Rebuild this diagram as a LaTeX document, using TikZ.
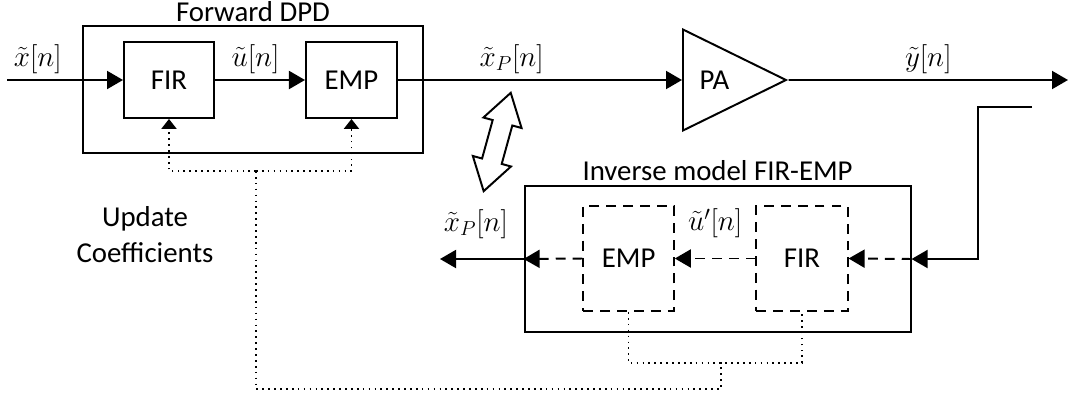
\documentclass[tikz,border=0pt]{standalone}
\usepackage{fontspec}
\setmainfont{Carlito}
\usepackage{amsmath}
\usetikzlibrary{arrows.meta,positioning,shapes.geometric,shapes.arrows}

\begin{document}
\begin{tikzpicture}[
    font=\fontsize{20.5}{25.6}\selectfont,
    blk/.style={
        draw,
        line width=1.4pt,
        minimum width=2.25cm,
        minimum height=1.9cm
    },
    outer/.style={
        draw,
        line width=1.4pt
    },
    dblk/.style={
        draw,
        line width=1.4pt,
        dash pattern=on 7pt off 5pt,
        minimum width=2.28cm,
        minimum height=2.625cm
    },
    sig/.style={
        line width=1.4pt,
        -{Triangle[length=0.4cm,width=0.45cm]}
    },
    dsig/.style={
        sig,
        dash pattern=on 7pt off 5pt
    },
    ctrl/.style={
        line width=1.2pt,
        dash pattern=on 1.2pt off 3pt
    },
    ctrltip/.style={
        ctrl,
        -{Triangle[length=0.25cm,width=0.38cm]}
    },
    lbl/.style={
        inner sep=2pt
    }
]

\useasboundingbox (0,0) rectangle (26.75,-9.925);

% forward DPD
\node[blk] (fir) at (4.225,-2.0) {FIR};
\node[blk, minimum width=2.275cm, right=2.25cm of fir] (emp) {EMP};
\node[outer, minimum width=8.5cm, minimum height=3.175cm] (dpd) at (6.325,-2.2375) {};
\node[lbl, above=0.5pt of dpd] (dpdtitle) {Forward DPD};

% power amplifier
\node[draw, isosceles triangle, isosceles triangle stretches, line width=1.4pt,
    minimum width=2.525cm, minimum height=2.575cm, inner sep=0pt, anchor=west] (pa) at (17.05,-2.0) {PA};

\coordinate (xin) at (0.175,-2.0);
\coordinate (yout) at (26.7,-2.0);

\draw[sig] (xin) -- (fir.west)
    node[lbl, pos=0.265, above=2pt] (xlab) {$\tilde{x}[n]$};
\draw[sig] (fir.east) -- (emp.west)
    node[lbl, pos=0.45, above=2pt] (ulab) {$\tilde{u}[n]$};
\draw[sig] (emp.east) -- (pa.west)
    node[lbl, pos=0.40, above=2pt] (xplab) {$\tilde{x}_P[n]$};
\draw[sig] (pa.apex) -- (yout)
    node[lbl, midway, above=2pt] (ylab) {$\tilde{y}[n]$};

% inverse model
\node[outer, minimum width=9.65cm, minimum height=3.65cm] (inv) at (17.94,-6.475) {};
\node[lbl, above=1pt of inv] (invtitle) {Inverse model FIR-EMP};
\node[dblk, minimum width=2.26cm] (iemp) at (15.716,-6.4625) {EMP};
\node[dblk] (ifir) at (20.05,-6.4625) {FIR};

\coordinate (fb) at (25.8,-2.675);
\coordinate (xpout) at (11.0,-6.475);

\draw[sig] (fb) -- ++(-1.35,0) |- (inv.east);
\draw[dsig] (inv.east) -- (ifir.east);
\draw[dsig] (ifir.west) -- (iemp.east)
    node[lbl, midway, above=0.42cm] (uplab) {$\tilde{u}'[n]$};
\draw[dsig] (iemp.west) -- (inv.west);
\draw[sig] (inv.west) -- (xpout)
    node[lbl, pos=0.57, above=0.42cm] (xp2lab) {$\tilde{x}_P[n]$};

% coefficient update
\coordinate (fbus) at (6.4,-4.275);
\coordinate (bbus) at (18.02,-9.075);
\draw[ctrltip] (fbus) -| (fir.south);
\draw[ctrltip] (fbus) -| (emp.south);
\draw[ctrl] (fbus) -- ++(0,-5.45) -| (bbus);
\draw[ctrl] (iemp.south) |- (bbus) -| (ifir.south);

\node[align=center] (upd) at (3.625,-5.875) {Update\\Coefficients};

\node[draw, double arrow, line width=1.4pt, rotate=74.6, minimum height=2.55cm,
    minimum width=0.94cm, double arrow head extend=0.24cm, double arrow tip angle=65,
    inner xsep=0pt, inner ysep=0.23cm] (swap) at (12.43,-3.55) {};

\end{tikzpicture}
\end{document}
